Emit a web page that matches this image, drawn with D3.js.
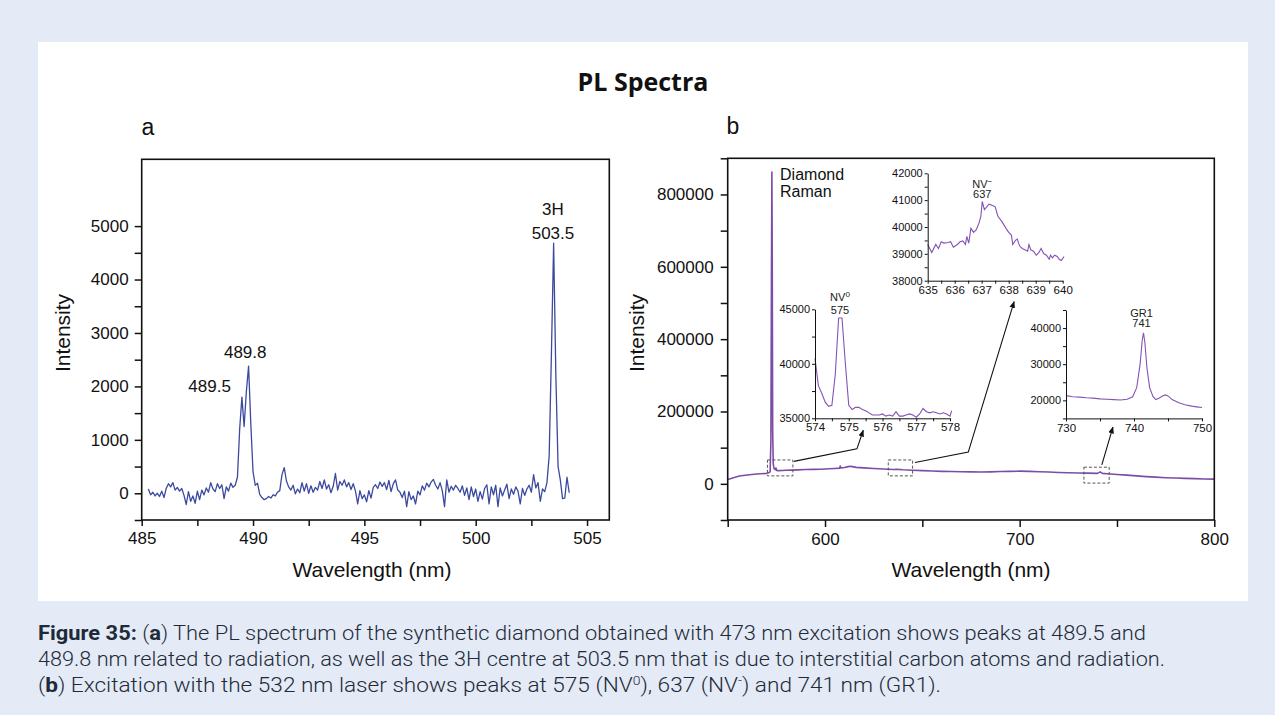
<!DOCTYPE html>
<html>
<head>
<meta charset="utf-8">
<script src="https://cdn.jsdelivr.net/npm/d3@7/dist/d3.min.js"></script>
<style>
  body { margin: 0; background: #e4eaf6; }
  svg text { font-family: "Liberation Sans", Arial, sans-serif; }
</style>
</head>
<body>
<svg id="fig" width="1275" height="715"></svg>
<script>
// ---- data: panel a (473 nm excitation), sampled every 0.1 nm from 485.3 nm
const waveStartA = 485.3;
const waveStepA = 0.1;
const intensityA = [
  80, -30, 20, -50, 0, -60, 40, -80, 90, 180,
  120, 200, 60, 110, 40, 90, -40, -210, 30, -150,
  -50, -190, 40, -120, 60, -30, 100, 20, 200, 80,
  30, 180, 90, 160, -100, 120, 40, 190, 110, 150,
  300, 1200, 1800, 1250, 1900, 2380, 1300, 400, 150, 190,
  -20, -80, -120, -100, -60, -90, -30, -50, 20, 50,
  350, 480, 230, 120, 60, 150, -10, 80, 10, 200,
  40, 180, 0, 140, 20, 110, 60, 220, 90, 250,
  80, 160, 10, 130, 370, 60, 220, 150, 250, 120,
  200, 70, 180, 40, -200, 50, -100, -30, -160, 50,
  -90, 110, 160, 90, 210, 130, 200, 70, 240, 30,
  180, 250, 60, 20, -80, 40, -250, 30, -120, -50,
  -200, 40, -30, 140, 60, 190, 120, 210, 260, 150,
  80, 200, 50, -250, 250, 20, 130, 60, 150, 90,
  20, 140, -40, 100, -120, 120, -60, 80, -150, 30,
  -110, 90, 160, -200, 120, -30, 150, -250, 100, -50,
  60, 170, -100, 80, -20, 120, 40, -200, 90, -40,
  80, 150, 20, 350, 100, 200, -150, 80, 30, 200,
  700, 2600, 4680, 2200, 500, 250, -100, -90, 300, 10
];
const peakLabelsA = [
  { x: 488.05, y: 1900, lines: ["489.5"] },
  { x: 489.65, y: 2530, lines: ["489.8"] },
  { x: 503.47, y: 5200, lines: ["3H", "503.5"] }
];

// ---- data: panel b (532 nm excitation)
const spectrumB = [
  [550, 12000], [553, 17000], [556, 21500], [560, 24500], [565, 27000], [570, 29000],
  [571, 30500], [571.8, 34000], [572.2, 120000], [572.5, 600000], [572.7, 862000],
  [572.9, 600000], [573.1, 150000], [573.4, 55000], [573.8, 42000], [574.5, 39000],
  [574.8, 44000], [575.2, 37000], [576, 36500], [578, 37000], [580, 37500], [583, 38000],
  [586, 38500], [590, 39500], [594, 40000], [598, 40500], [602, 41500], [605, 42500],
  [607.5, 43500], [607.8, 49000], [608.1, 44000], [610, 45000], [612, 47500], [613, 48500],
  [614, 47500], [616, 45500], [620, 44000], [625, 42500], [630, 41000], [635, 39500],
  [637, 40500], [640, 39000], [645, 37500], [650, 36500], [655, 35500], [660, 34500],
  [665, 34000], [670, 33500], [675, 33000], [680, 32500], [685, 33000], [690, 34000],
  [695, 34500], [700, 35000], [705, 34500], [710, 33500], [715, 32500], [720, 31500],
  [725, 30500], [730, 30000], [735, 29500], [740, 29000], [741.4, 33000], [742.5, 29000],
  [745, 28000], [750, 26000], [755, 24000], [760, 22000], [765, 20000], [770, 18500],
  [775, 17000], [780, 16000], [785, 15000], [790, 14500], [795, 13500], [800, 13000]
];

const insetNV0 = [
  [574.0, 40500], [574.1, 38000], [574.2, 37300], [574.3, 36500], [574.4, 36100], [574.5, 36200],
  [574.6, 39000], [574.7, 44200], [574.8, 44200], [574.9, 40000], [575.0, 36200], [575.1, 35800],
  [575.2, 36000], [575.3, 36000], [575.4, 35800], [575.5, 35700], [575.6, 35500], [575.7, 35300],
  [575.8, 35300], [575.9, 35300], [576.0, 35400], [576.1, 35200], [576.2, 35300], [576.3, 35200],
  [576.4, 35600], [576.5, 35200], [576.6, 35200], [576.7, 35300], [576.8, 35400], [576.9, 35300],
  [577.0, 35100], [577.1, 35400], [577.2, 35900], [577.3, 35600], [577.4, 35500], [577.5, 35600],
  [577.6, 35500], [577.7, 35400], [577.8, 35500], [577.9, 35400], [578.0, 35200], [578.05, 35700]
];

const insetNVm = [
  [635.0, 39350], [635.15, 39050], [635.3, 39350], [635.4, 39200], [635.5, 39450], [635.6, 39400],
  [635.75, 39420], [635.85, 39450], [635.95, 39250], [636.1, 39350], [636.2, 39450], [636.3, 39480],
  [636.4, 39350], [636.45, 39650], [636.52, 39400], [636.6, 39950], [636.7, 39800], [636.8, 39900],
  [636.9, 40150], [636.97, 40400], [637.02, 40950], [637.1, 40650], [637.27, 40850], [637.4, 40800],
  [637.5, 40750], [637.6, 40400], [637.75, 40200], [637.9, 39950], [638.0, 39800], [638.1, 39700],
  [638.15, 39350], [638.25, 39500], [638.32, 39550], [638.4, 39300], [638.5, 39200], [638.6, 39150],
  [638.7, 39100], [638.75, 39350], [638.82, 39150], [638.92, 39100], [639.02, 38950], [639.12, 39050],
  [639.2, 39200], [639.3, 39000], [639.4, 38950], [639.5, 38800], [639.55, 38950], [639.62, 38850],
  [639.7, 38950], [639.8, 38900], [639.87, 38800], [639.95, 38750], [640.05, 38900]
];

const insetGR1 = [
  [730, 21300], [731, 21000], [732, 20900], [733, 20700], [734, 20600], [735, 20400],
  [736, 20300], [737, 20200], [738, 20100], [739, 20300], [739.8, 21000], [740.4, 23500],
  [740.9, 30000], [741.2, 36500], [741.4, 38700], [741.6, 36000], [741.9, 29000], [742.3, 23500],
  [742.8, 21000], [743.2, 20200], [743.6, 20500], [744.2, 21200], [744.6, 21500], [745.1, 21100],
  [745.6, 20200], [746.5, 19400], [747.5, 18800], [748.5, 18400], [749.2, 18200], [750, 18000]
];

// zoomed regions on panel b: [x0, x1, y0, y1]
const zoomBoxes = [
  [570.4, 583.5, 22000, 66000],
  [632.5, 645.0, 22000, 66000],
  [733.0, 746.0, 2000, 46000]
];

const captionLines = [
  [["Figure 35: ", true], ["(", false], ["a", true], [") The PL spectrum of the synthetic diamond obtained with 473 nm excitation shows peaks at 489.5 and", false]],
  [["489.8 nm related to radiation, as well as the 3H centre at 503.5 nm that is due to interstitial carbon atoms and radiation.", false]],
  [["(", false], ["b", true], [") Excitation with the 532 nm laser shows peaks at 575 (NV", false], ["0", false, "sup"], ["), 637 (NV", false], ["-", false, "sup"], [") and 741 nm (GR1).", false]]
];
const captionWidths = [1108, 1127, 903];

const svg = d3.select("#fig");

// page background and white panel
svg.append("rect").attr("width", 1275).attr("height", 715).attr("fill", "#e4eaf6");
svg.append("rect").attr("x", 38).attr("y", 42).attr("width", 1210).attr("height", 559).attr("fill", "#fff");

svg.append("text")
  .attr("x", 643).attr("y", 91)
  .attr("text-anchor", "middle")
  .style("font-family", "'Open Sans', 'Liberation Sans', sans-serif")
  .style("font-weight", 700)
  .style("font-size", "25px")
  .attr("fill", "#111")
  .text("PL Spectra");

// helper: draw an axis with major (labelled) and minor ticks
function drawAxis(g, axisFn, scale, ticks, labelled, opts) {
  const ax = axisFn(scale)
    .tickValues(ticks)
    .tickFormat(d => labelled.includes(d) ? d : "")
    .tickSize(opts.tick)
    .tickSizeOuter(0)
    .tickPadding(opts.pad);
  const a = g.append("g")
    .attr("transform", opts.transform)
    .call(ax);
  a.attr("font-family", null);
  a.selectAll("text")
    .style("font-size", opts.font + "px")
    .attr("fill", "#111");
  a.selectAll("line").attr("stroke", "#111").attr("stroke-width", opts.width);
  if (opts.domain) a.select(".domain").attr("stroke", "#111").attr("stroke-width", opts.width);
  else a.select(".domain").remove();
  return a;
}

// ================= panel a =================
const xA = d3.scaleLinear().domain([485, 506]).range([141.7, 609.3]);
const yA = d3.scaleLinear().domain([-500, 6250]).range([520, 159.3]);
const gA = svg.append("g");

const dataA = intensityA.map((v, i) => [waveStartA + i * waveStepA, v]);

gA.append("path")
  .datum(dataA)
  .attr("fill", "none")
  .attr("stroke", "#3c4a9e")
  .attr("stroke-width", 1.3)
  .attr("stroke-linejoin", "round")
  .attr("d", d3.line().x(d => xA(d[0])).y(d => yA(d[1])));

drawAxis(gA, d3.axisBottom, xA, d3.range(485, 506, 2.5), [485, 490, 495, 500, 505],
  { tick: 6, pad: 6, font: 17, width: 1.5, transform: "translate(0,520)" });
drawAxis(gA, d3.axisLeft, yA, d3.range(-500, 5001, 500), [0, 1000, 2000, 3000, 4000, 5000],
  { tick: 7, pad: 6, font: 17, width: 1.5, transform: "translate(141.7,0)" });

gA.append("rect")
  .attr("x", xA.range()[0]).attr("y", yA.range()[1])
  .attr("width", xA.range()[1] - xA.range()[0])
  .attr("height", yA.range()[0] - yA.range()[1])
  .attr("fill", "none").attr("stroke", "#111").attr("stroke-width", 1.6);

peakLabelsA.forEach(p => {
  p.lines.forEach((t, i) => {
    gA.append("text")
      .attr("x", xA(p.x)).attr("y", yA(p.y) + i * 24)
      .attr("text-anchor", "middle")
      .style("font-size", "17px")
      .attr("fill", "#111")
      .text(t);
  });
});

gA.append("text").attr("x", 148).attr("y", 135).attr("text-anchor", "middle")
  .style("font-size", "23px").attr("fill", "#111").text("a");
gA.append("text").attr("x", 372).attr("y", 577).attr("text-anchor", "middle")
  .style("font-size", "21px").attr("fill", "#111").text("Wavelength (nm)");
gA.append("text").attr("transform", "translate(70,333) rotate(-90)").attr("text-anchor", "middle")
  .style("font-size", "21px").attr("fill", "#111").text("Intensity");

// ================= panel b =================
const xB = d3.scaleLinear().domain([550, 800]).range([727.7, 1214.3]);
const yB = d3.scaleLinear().domain([-100000, 900000]).range([520, 158.3]);
const gB = svg.append("g");

gB.append("path")
  .datum(spectrumB)
  .attr("fill", "none")
  .attr("stroke", "#7b4ea6")
  .attr("stroke-width", 1.6)
  .attr("stroke-linejoin", "round")
  .attr("d", d3.line().x(d => xB(d[0])).y(d => yB(d[1])));

drawAxis(gB, d3.axisBottom, xB, d3.range(550, 801, 50), [600, 700, 800],
  { tick: 7, pad: 6, font: 17, width: 1.5, transform: "translate(0,520)" });
drawAxis(gB, d3.axisLeft, yB, d3.range(-100000, 900001, 100000), [0, 200000, 400000, 600000, 800000],
  { tick: 7, pad: 7, font: 17, width: 1.5, transform: "translate(727.7,0)" });

gB.append("rect")
  .attr("x", xB.range()[0]).attr("y", yB.range()[1])
  .attr("width", xB.range()[1] - xB.range()[0])
  .attr("height", yB.range()[0] - yB.range()[1])
  .attr("fill", "none").attr("stroke", "#111").attr("stroke-width", 1.6);

gB.append("text").attr("x", 733).attr("y", 134).attr("text-anchor", "middle")
  .style("font-size", "23px").attr("fill", "#111").text("b");
gB.append("text").attr("x", 971).attr("y", 577).attr("text-anchor", "middle")
  .style("font-size", "21px").attr("fill", "#111").text("Wavelength (nm)");
gB.append("text").attr("transform", "translate(644,333) rotate(-90)").attr("text-anchor", "middle")
  .style("font-size", "21px").attr("fill", "#111").text("Intensity");

gB.append("text").attr("x", xB(576.9)).attr("y", yB(840000))
  .style("font-size", "16px").attr("fill", "#111").text("Diamond");
gB.append("text").attr("x", xB(576.9)).attr("y", yB(794000))
  .style("font-size", "16px").attr("fill", "#111").text("Raman");

zoomBoxes.forEach(b => {
  gB.append("rect")
    .attr("x", xB(b[0])).attr("y", yB(b[3]))
    .attr("width", xB(b[1]) - xB(b[0]))
    .attr("height", yB(b[2]) - yB(b[3]))
    .attr("fill", "none").attr("stroke", "#555")
    .attr("stroke-width", 1).attr("stroke-dasharray", "3,2");
});

// ---- insets
const insets = [
  {
    data: insetNV0, x: [574, 578], xr: [815, 950], y: [35000, 45000], yr: [418.3, 309.3],
    xt: d3.range(574, 578.01, 0.5), xl: [574, 575, 576, 577, 578],
    yt: [35000, 37500, 40000, 42500, 45000], yl: [35000, 40000, 45000],
    label: ["NV", "575"], sup: "0", lx: 574.74, ly: [45760, 44570]
  },
  {
    data: insetNVm, x: [635, 640], xr: [927.7, 1062.7], y: [38000, 42000], yr: [280.7, 173.3],
    xt: d3.range(635, 640.01, 0.5), xl: [635, 636, 637, 638, 639, 640],
    yt: d3.range(38000, 42001, 500), yl: [38000, 39000, 40000, 41000, 42000],
    label: ["NV", "637"], sup: "\u2212", lx: 637.02, ly: [41450, 41080]
  },
  {
    data: insetGR1, x: [730, 750], xr: [1066, 1202], y: [15000, 45000], yr: [418.4, 310],
    xt: [730, 735, 740, 745, 750], xl: [730, 740, 750],
    yt: [15000, 20000, 25000, 30000, 35000, 40000, 45000], yl: [20000, 30000, 40000],
    label: ["GR1", "741"], sup: null, lx: 741.1, ly: [43150, 40210]
  }
];

insets.forEach(s => {
  s.xs = d3.scaleLinear().domain(s.x).range(s.xr);
  s.ys = d3.scaleLinear().domain(s.y).range(s.yr);
  const g = svg.append("g");
  g.append("path")
    .datum(s.data)
    .attr("fill", "none")
    .attr("stroke", "#8453b4")
    .attr("stroke-width", 1.1)
    .attr("d", d3.line().x(d => s.xs(d[0])).y(d => s.ys(d[1])));
  drawAxis(g, d3.axisBottom, s.xs, s.xt, s.xl,
    { tick: 3, pad: 2, font: 11.5, width: 1, domain: true, transform: `translate(0,${s.yr[0]})` });
  drawAxis(g, d3.axisLeft, s.ys, s.yt, s.yl,
    { tick: 3, pad: 2, font: 11, width: 1, domain: true, transform: `translate(${s.xr[0]},0)` });
  const t = g.append("text")
    .attr("x", s.xs(s.lx)).attr("y", s.ys(s.ly[0]))
    .attr("text-anchor", "middle")
    .style("font-size", "11px").attr("fill", "#222")
    .text(s.label[0]);
  if (s.sup) t.append("tspan").attr("dy", -4).style("font-size", "8px").text(s.sup);
  g.append("text")
    .attr("x", s.xs(s.lx)).attr("y", s.ys(s.ly[1]))
    .attr("text-anchor", "middle")
    .style("font-size", "11px").attr("fill", "#222")
    .text(s.label[1]);
});

// ---- pointer lines from zoom boxes to insets
svg.append("defs").append("marker")
  .attr("id", "arrow")
  .attr("viewBox", "0 0 10 10")
  .attr("refX", 9).attr("refY", 5)
  .attr("markerWidth", 7).attr("markerHeight", 7)
  .attr("markerUnits", "userSpaceOnUse")
  .attr("orient", "auto")
  .append("path").attr("d", "M0,1 L10,5 L0,9 Z").attr("fill", "#111");

const pointers = [
  [[xB(584), yB(62000)], [xB(616.4), yB(96800)], [insets[0].xs(575.43), insets[0].ys(33900)]],
  [[xB(646.2), yB(58900)], [xB(673.6), yB(87600)], [insets[1].xs(638.2), insets[1].ys(37220)]],
  [[xB(742.2), yB(52500)], [insets[2].xs(736.9), insets[2].ys(12600)]]
];
pointers.forEach(p => {
  svg.append("path")
    .attr("d", d3.line()(p))
    .attr("fill", "none")
    .attr("stroke", "#111")
    .attr("stroke-width", 1.1)
    .attr("marker-end", "url(#arrow)");
});

// ---- caption
captionLines.forEach((line, i) => {
  const t = svg.append("text")
    .attr("x", 38).attr("y", 640 + i * 26)
    .attr("textLength", captionWidths[i])
    .attr("lengthAdjust", "spacingAndGlyphs")
    .style("font-family", "Roboto, 'Open Sans', sans-serif")
    .style("font-size", "19.5px")
    .attr("fill", "#1e2a38");
  line.forEach(seg => {
    const ts = t.append("tspan")
      .style("font-weight", seg[1] ? 700 : 300)
      .text(seg[0]);
    if (seg[2] === "sup") {
      ts.attr("baseline-shift", "super").style("font-size", "12px");
    }
  });
});
</script>
</body>
</html>
